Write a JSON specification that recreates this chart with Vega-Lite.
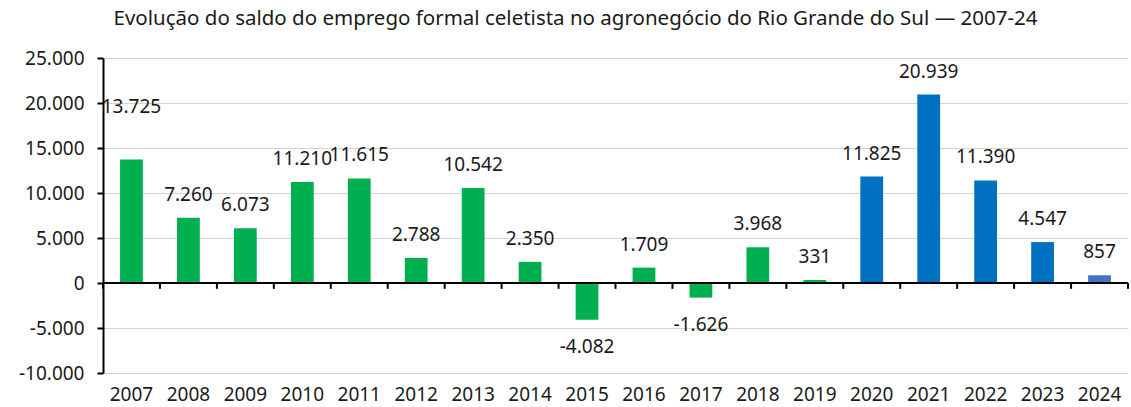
{
  "$schema": "https://vega.github.io/schema/vega-lite/v6.json",
  "width": 1025,
  "height": 315,
  "autosize": {"type": "none"},
  "padding": {"left": 103, "top": 58, "right": 3, "bottom": 34},
  "background": "white",
  "title": {
    "text": "Evolução do saldo do emprego formal celetista no agronegócio do Rio Grande do Sul — 2007-24",
    "font": "Noto Sans",
    "fontSize": 20.5,
    "fontWeight": "normal",
    "color": "#1a1a1a",
    "anchor": "middle",
    "dx": -40,
    "offset": 20
  },
  "config": {
    "locale": {"number": {"decimal": ",", "thousands": ".", "grouping": [3], "currency": ["R$", ""], "minus": "-"}},
    "view": {"stroke": null},
    "font": "Noto Sans",
    "axisY": {
      "domainColor": "#000000", "domainWidth": 2,
      "tickColor": "#000000", "tickWidth": 2, "tickSize": 6,
      "labelFontSize": 19, "labelColor": "#1a1a1a", "labelPadding": 13,
      "labelFont": "Noto Sans",
      "grid": true, "gridColor": "#d4d4d4", "gridWidth": 1.2
    }
  },
  "data": {
    "values": [
      {"ano": "2007", "saldo": 13725},
      {"ano": "2008", "saldo": 7260},
      {"ano": "2009", "saldo": 6073},
      {"ano": "2010", "saldo": 11210},
      {"ano": "2011", "saldo": 11615},
      {"ano": "2012", "saldo": 2788},
      {"ano": "2013", "saldo": 10542},
      {"ano": "2014", "saldo": 2350},
      {"ano": "2015", "saldo": -4082},
      {"ano": "2016", "saldo": 1709},
      {"ano": "2017", "saldo": -1626},
      {"ano": "2018", "saldo": 3968},
      {"ano": "2019", "saldo": 331},
      {"ano": "2020", "saldo": 11825},
      {"ano": "2021", "saldo": 20939},
      {"ano": "2022", "saldo": 11390},
      {"ano": "2023", "saldo": 4547},
      {"ano": "2024", "saldo": 857}
    ]
  },
  "layer": [
    {
      "mark": {"type": "bar"},
      "encoding": {
        "x": {
          "field": "ano", "type": "ordinal",
          "scale": {"paddingInner": 0.6, "paddingOuter": 0.3},
          "axis": {
            "orient": "bottom", "title": null, "domain": false, "ticks": false,
            "labelAngle": 0, "labelFontSize": 19, "labelColor": "#1a1a1a",
            "labelPadding": 12, "labelFont": "Noto Sans"
          }
        },
        "y": {
          "field": "saldo", "type": "quantitative",
          "scale": {"domain": [-10000, 25000], "nice": false, "zero": false},
          "axis": {
            "title": null, "values": [-10000, -5000, 0, 5000, 10000, 15000, 20000, 25000],
            "format": ",d"
          }
        },
        "color": {
          "condition": [
            {"test": "datum.ano == '2024'", "value": "#4472C4"},
            {"test": "datum.ano >= '2020'", "value": "#0070C0"}
          ],
          "value": "#00B050"
        }
      }
    },
    {
      "mark": {"type": "rule", "color": "#000000", "strokeWidth": 2},
      "encoding": {"y": {"datum": 0, "type": "quantitative", "axis": {"title": null}}}
    },
    {
      "mark": {"type": "rule", "color": "#000000", "strokeWidth": 2, "xOffset": -28.47},
      "encoding": {
        "x": {"field": "ano", "type": "ordinal"},
        "y": {"datum": 0, "type": "quantitative", "axis": {"title": null}},
        "y2": {"datum": -650}
      }
    },
    {
      "transform": [{"filter": "datum.ano == '2024'"}],
      "mark": {"type": "rule", "color": "#000000", "strokeWidth": 2, "xOffset": 28.47},
      "encoding": {
        "x": {"field": "ano", "type": "ordinal"},
        "y": {"datum": 0, "type": "quantitative", "axis": {"title": null}},
        "y2": {"datum": -650}
      }
    },
    {
      "transform": [{"filter": "datum.saldo >= 0 && datum.ano != '2007'"}],
      "mark": {"type": "text", "baseline": "middle", "dy": -23, "fontSize": 19, "color": "#1a1a1a", "font": "Noto Sans"},
      "encoding": {
        "x": {"field": "ano", "type": "ordinal"},
        "y": {"field": "saldo", "type": "quantitative", "axis": {"title": null}},
        "text": {"field": "saldo", "type": "quantitative", "format": ",d"}
      }
    },
    {
      "transform": [{"filter": "datum.ano == '2007'"}],
      "mark": {"type": "text", "baseline": "middle", "dy": -52, "fontSize": 19, "color": "#1a1a1a", "font": "Noto Sans"},
      "encoding": {
        "x": {"field": "ano", "type": "ordinal"},
        "y": {"field": "saldo", "type": "quantitative", "axis": {"title": null}},
        "text": {"field": "saldo", "type": "quantitative", "format": ",d"}
      }
    },
    {
      "transform": [{"filter": "datum.saldo < 0"}],
      "mark": {"type": "text", "baseline": "middle", "dy": 27, "fontSize": 19, "color": "#1a1a1a", "font": "Noto Sans"},
      "encoding": {
        "x": {"field": "ano", "type": "ordinal"},
        "y": {"field": "saldo", "type": "quantitative", "axis": {"title": null}},
        "text": {"field": "saldo", "type": "quantitative", "format": ",d"}
      }
    }
  ]
}
